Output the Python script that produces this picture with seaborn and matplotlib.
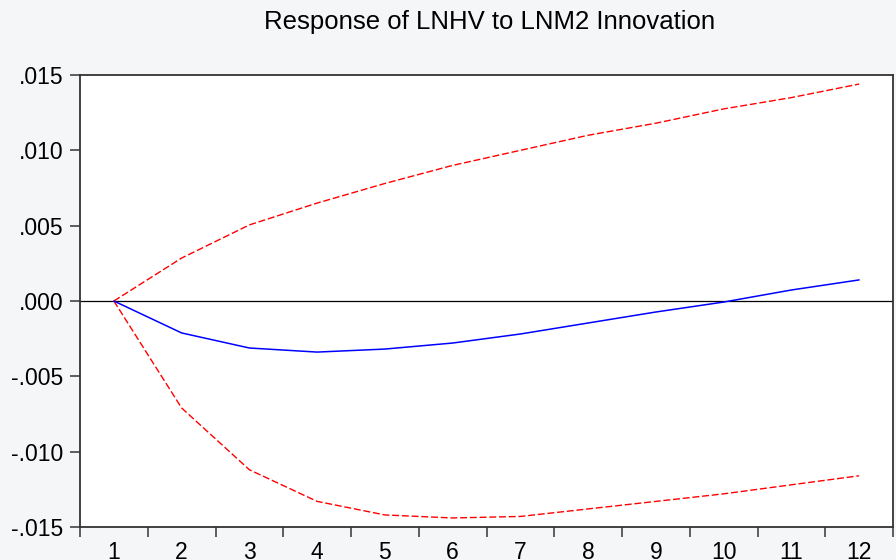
import numpy as np
import pandas as pd
import matplotlib
matplotlib.use("Agg")
import matplotlib.pyplot as plt
import seaborn as sns

periodos = list(range(1, 13))
resposta = [0.0, -0.00212, -0.00312, -0.00339, -0.00319, -0.00279, -0.00219,
            -0.00146, -0.00073, -0.00007, 0.00073, 0.00140]
banda_sup = [0.0, 0.00285, 0.00505, 0.0065, 0.0078, 0.0090, 0.0100,
             0.0110, 0.0118, 0.01275, 0.0135, 0.0144]
banda_inf = [0.0, -0.0071, -0.0112, -0.0133, -0.0142, -0.0144, -0.0143,
             -0.0138, -0.0133, -0.0128, -0.0122, -0.0116]
titulo = "Response of LNHV to LNM2 Innovation"

df = pd.DataFrame({"periodo": periodos, "resposta": resposta,
                   "sup": banda_sup, "inf": banda_inf})

sns.set_style("white")
plt.rcParams["font.family"] = ["Liberation Sans", "DejaVu Sans"]
plt.rcParams["text.color"] = "black"
plt.rcParams["xtick.color"] = "black"
plt.rcParams["ytick.color"] = "black"

fig = plt.figure(figsize=(8.96, 5.6), dpi=100, facecolor="#f5f6f8")
ax = fig.add_axes([80 / 896, 1 - 527 / 560, 813 / 896, 452 / 560])
ax.set_facecolor("white")

ax.axhline(0, color="black", lw=0.9, zorder=1)
sns.lineplot(data=df, x="periodo", y="sup", ax=ax, color="red", lw=1.0,
             linestyle=(0, (5, 2)))
sns.lineplot(data=df, x="periodo", y="inf", ax=ax, color="red", lw=1.0,
             linestyle=(0, (5, 2)))
sns.lineplot(data=df, x="periodo", y="resposta", ax=ax, color="blue", lw=1.1)

ax.set_xlim(0.5, 12.5)
ax.set_ylim(-0.015, 0.015)
ax.set_xlabel("")
ax.set_ylabel("")

# ticks do eixo x ficam entre os periodos, rotulos nos inteiros
ax.set_xticks(np.arange(0.5, 13, 1))
ax.set_xticklabels([])
ax.set_xticks(periodos, minor=True)
ax.set_xticklabels([str(p) for p in periodos], minor=True)
ax.tick_params(axis="x", which="major", direction="out", length=7, width=1.2,
               color="#444444", bottom=True)
ax.tick_params(axis="x", which="minor", length=0, pad=10, labelsize=16.5,
               labelcolor="black")

ax.set_yticks([-0.015, -0.010, -0.005, 0.0, 0.005, 0.010, 0.015])
ax.yaxis.set_major_formatter(plt.FuncFormatter(lambda v, _: f"{v:.3f}".replace("0.", ".")))
ax.tick_params(axis="y", direction="out", length=7, width=1.2, color="#444444",
               left=True, pad=5, labelsize=16.5, labelcolor="black")

for s in ax.spines.values():
    s.set_visible(True)
    s.set_color("#333333")
    s.set_linewidth(1.3)

fig.text(490 / 896, 1 - 22 / 560, titulo, ha="center", va="center",
         fontsize=18.5, color="black")

fig.savefig("out.png", dpi=100, facecolor=fig.get_facecolor())
